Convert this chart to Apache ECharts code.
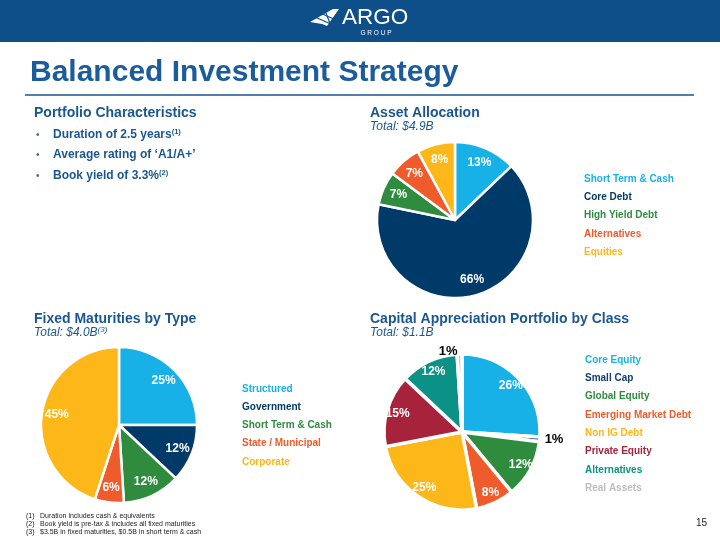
<!DOCTYPE html>
<html><head><meta charset="utf-8">
<script src="https://cdn.jsdelivr.net/npm/echarts@6/dist/echarts.min.js"></script>
<style>html,body{margin:0;padding:0;background:#fff}#c{width:720px;height:540px}</style>
</head><body><div id="c"></div>
<script>
// ---- data ----
const assetCategories = ['Short Term & Cash', 'Core Debt', 'High Yield Debt', 'Alternatives', 'Equities'];
const assetValues = [13, 66, 7, 7, 8];
const fixedCategories = ['Structured', 'Government', 'Short Term & Cash', 'State / Municipal', 'Corporate'];
const fixedValues = [25, 12, 12, 6, 45];
const capCategories = ['Core Equity', 'Small Cap', 'Global Equity', 'Emerging Market Debt', 'Non IG Debt', 'Private Equity', 'Alternatives', 'Real Assets'];
const capValues = [26, 1, 12, 8, 25, 15, 12, 1];
const bullets = ['Duration of 2.5 years', 'Average rating of \u2018A1/A+\u2019', 'Book yield of 3.3%'];
const bulletNotes = ['(1)', '', '(2)'];
const footnotes = ['Duration includes cash & equivalents', 'Book yield is pre-tax & includes all fixed maturities', '$3.5B in fixed maturities, $0.5B in short term & cash'];

// ---- styles ----
const C = {lb: '#17B1E8', navy: '#003A68', green: '#2F8C3F', orange: '#EF5B2B', yellow: '#FDB718', red: '#A6233B', teal: '#0B9185', gray: '#BDBDBD'};
const assetColors = [C.lb, C.navy, C.green, C.orange, C.yellow];
const fixedColors = [C.lb, C.navy, C.green, C.orange, C.yellow];
const capColors = [C.lb, '#0E3F6E', C.green, C.orange, C.yellow, C.red, C.teal, C.gray];
const FONT = 'Liberation Sans, Arial, sans-serif';
const BLUE = '#1A5791';

function pieMain(names, vals, colors, center, r, bw) {
  return {
    type: 'pie', center: center, radius: [0, r], startAngle: 90, clockwise: true,
    silent: true, label: {show: false}, labelLine: {show: false},
    itemStyle: {borderColor: '#fff', borderWidth: bw},
    emphasis: {disabled: true}, animation: false,
    data: names.map((n, i) => ({name: n, value: vals[i], itemStyle: {color: colors[i]}}))
  };
}
function pieLabels(names, vals, center, r0, r, outsideIdx) {
  return {
    type: 'pie', center: center, radius: [r0, r], startAngle: 90, clockwise: true,
    silent: true, animation: false, emphasis: {disabled: true},
    itemStyle: {color: 'rgba(0,0,0,0)', borderWidth: 0},
    label: {show: true, position: 'inside', formatter: '{c}%', color: '#fff', fontSize: 12, fontWeight: 'bold', fontFamily: FONT},
    labelLine: {show: false},
    data: names.map((n, i) => {
      const d = {name: n, value: vals[i]};
      if (outsideIdx && outsideIdx.indexOf(i) >= 0) {
        d.label = {position: 'outside', color: '#000', fontSize: 13, distanceToLabelLine: 0};
        d.labelLine = {show: false, length: 3, length2: 2};
      }
      return d;
    })
  };
}
function legend(names, colors, left, top, gap) {
  return {
    orient: 'vertical', left: left, top: top, icon: 'none', itemWidth: 0, itemHeight: 0,
    itemGap: gap - 14, selectedMode: false,
    textStyle: {fontSize: 10, fontWeight: 'bold', fontFamily: FONT, lineHeight: 14},
    data: names.map((n, i) => ({name: n, textStyle: {color: colors[i]}}))
  };
}
function txt(x, y, text, o) {
  return {type: 'text', silent: true, style: Object.assign({x: x, y: y, text: text, fontFamily: FONT, verticalAlign: 'middle', align: 'left'}, o || {})};
}

const graphics = [
  {type: 'rect', shape: {x: 0, y: 0, width: 720, height: 42}, style: {fill: '#0E4F8A'}, silent: true},
  // logo wing
  {type: 'polygon', shape: {points: [[310, 22], [333, 9], [339, 9], [327, 26], [322, 24], [316, 23]]}, style: {fill: '#fff'}, silent: true},
  {type: 'line', shape: {x1: 318, y1: 12, x2: 336, y2: 20}, style: {stroke: '#0E4F8A', lineWidth: 1.2}, silent: true},
  {type: 'line', shape: {x1: 315, y1: 17, x2: 333, y2: 25}, style: {stroke: '#0E4F8A', lineWidth: 1.2}, silent: true},
  {type: 'line', shape: {x1: 324, y1: 8, x2: 331, y2: 26}, style: {stroke: '#0E4F8A', lineWidth: 1.2}, silent: true},
  txt(342, 18, 'ARGO', {fill: '#fff', fontSize: 22.5, fontWeight: 'normal'}),
  txt(376, 33, 'G R O U P', {fill: '#fff', fontSize: 6.5, align: 'center'}),
  // title
  txt(30, 73, 'Balanced Investment Strategy', {fill: '#1B5C9C', fontSize: 30, fontWeight: 'bold'}),
  {type: 'line', shape: {x1: 25, y1: 95, x2: 694, y2: 95}, style: {stroke: '#1A5590', lineWidth: 1.5}, silent: true},
  // section headings
  txt(34, 113, 'Portfolio Characteristics', {fill: BLUE, fontSize: 14, fontWeight: 'bold'}),
  txt(370, 113, 'Asset Allocation', {fill: BLUE, fontSize: 14, fontWeight: 'bold'}),
  txt(370, 127, 'Total: $4.9B', {fill: BLUE, fontSize: 12, fontStyle: 'italic'}),
  txt(34, 319, 'Fixed Maturities by Type', {fill: BLUE, fontSize: 14, fontWeight: 'bold'}),
  txt(34, 333, 'Total: $4.0B{s|(3)}', {fill: BLUE, fontSize: 12, fontStyle: 'italic', rich: {s: {fontSize: 8, fontStyle: 'italic', fill: BLUE, verticalAlign: 'top', lineHeight: 14, fontFamily: FONT}}}),
  txt(370, 319, 'Capital Appreciation Portfolio by Class', {fill: BLUE, fontSize: 14, fontWeight: 'bold'}),
  txt(370, 333, 'Total: $1.1B', {fill: BLUE, fontSize: 12, fontStyle: 'italic'}),
  // page number
  txt(707, 523, '15', {fill: '#222', fontSize: 10, align: 'right'})
];
const bulletY = [135, 155, 176];
bullets.forEach((b, i) => {
  graphics.push(txt(36, bulletY[i], '\u2022', {fill: '#3A6A9A', fontSize: 10}));
  const t = bulletNotes[i] ? b + '{s|' + bulletNotes[i] + '}' : b;
  graphics.push(txt(53, bulletY[i], t, {fill: BLUE, fontSize: 12, fontWeight: 'bold',
    rich: {s: {fontSize: 7.5, fontWeight: 'bold', fill: BLUE, verticalAlign: 'top', lineHeight: 15, fontFamily: FONT}}}));
});
footnotes.forEach((f, i) => {
  graphics.push(txt(26, 516 + i * 8, '(' + (i + 1) + ')', {fill: '#222', fontSize: 7}));
  graphics.push(txt(40, 516 + i * 8, f, {fill: '#222', fontSize: 7}));
});

const chart = echarts.init(document.getElementById('c'), null, {renderer: 'canvas'});
chart.setOption({
  animation: false,
  backgroundColor: '#fff',
  legend: [
    legend(assetCategories, assetColors, 574, 167, 18.3),
    legend(fixedCategories, fixedColors, 232, 377, 18.2),
    legend(capCategories, capColors, 575, 348, 18.3)
  ],
  graphic: graphics,
  series: [
    pieMain(assetCategories, assetValues, assetColors, [455, 220], 78, 2.5),
    pieLabels(assetCategories, assetValues, [455, 220], 40, 78),
    pieMain(fixedCategories, fixedValues, fixedColors, [119, 425], 78, 2.5),
    pieLabels(fixedCategories, fixedValues, [119, 425], 42, 78),
    pieMain(capCategories, capValues, capColors, [462, 432], 78, 3.5),
    pieLabels(capCategories, capValues, [462, 432], 50, 78, [1, 7])
  ]
});
</script></body></html>
